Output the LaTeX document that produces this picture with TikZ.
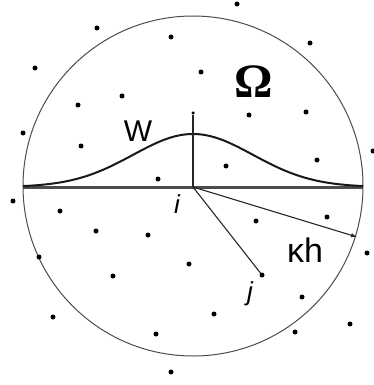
\documentclass[tikz,border=0pt]{standalone}
\usepackage{fontspec}
\setmainfont{Liberation Sans}
\newfontfamily\serifgreek{Liberation Serif}
\usetikzlibrary{arrows.meta}
\tikzset{
  pt/.style={circle,fill=black,inner sep=0pt,minimum size=5pt},
  lbl/.style={inner sep=0pt},
  thinline/.style={line width=1.1pt,draw=black!85},
}
\begin{document}
\begin{tikzpicture}[x=1pt,y=-1pt]
\useasboundingbox (0,0) rectangle (374,385);
% circle
\node[circle,draw=black!70,line width=1pt,minimum size=340pt,inner sep=0pt] (omega) at (193,186) {};
% baseline
\coordinate (L) at (23,187);
\coordinate (R) at (363,187);
\coordinate (i) at (193,187);
\draw[line width=3pt,draw=black!70] (L) -- (R);
% kernel curve
\draw[line width=2pt,draw=black!90,smooth,samples=120,domain=23:363] plot (\x,{187-53*exp(-0.5*((\x-193)/60)^2)});
% vertical axis
\node[pt,minimum size=3.5pt] (top) at (193,113) {};
\draw[thinline] (i) -- (top);
% radius
\coordinate (rk) at (357,237);
\draw[thinline,-{Latex[length=6pt,width=4.5pt]}] (i) -- (rk);
% j
\node[pt] (j) at (262,275) {};
\draw[thinline] (i) -- (j);
% labels
\node[lbl,font=\fontsize{30}{32}\selectfont] (lW) at (138,131) {W};
\node[lbl,font=\serifgreek\bfseries\fontsize{48}{50}\selectfont] (lO) at (254,82) {Ω};
\node[lbl,font=\itshape\fontsize{26}{28}\selectfont] (li) at (177,204) {i};
\node[lbl,font=\itshape\fontsize{26}{28}\selectfont] (lj) at (250,294) {j};
\node[lbl,font=\fontsize{34}{36}\selectfont] (lk) at (305,250) {κh};
% scattered points
\foreach \p [count=\n] in {(237,4),(97,28),(171,37),(310,43),(35,68),(201,72),(122,96),(78,105),(249,115),(306,112),(23,133),(81,146),(373,151),(317,160),(226,166),(158,179),(13,201),(60,211),(256,221),(327,217),(96,231),(148,235),(39,257),(367,253),(189,264),(113,276),(302,297),(53,317),(214,314),(350,324),(295,332),(156,334),(171,372)}
  \node[pt] (d\n) at \p {};
\end{tikzpicture}
\end{document}
